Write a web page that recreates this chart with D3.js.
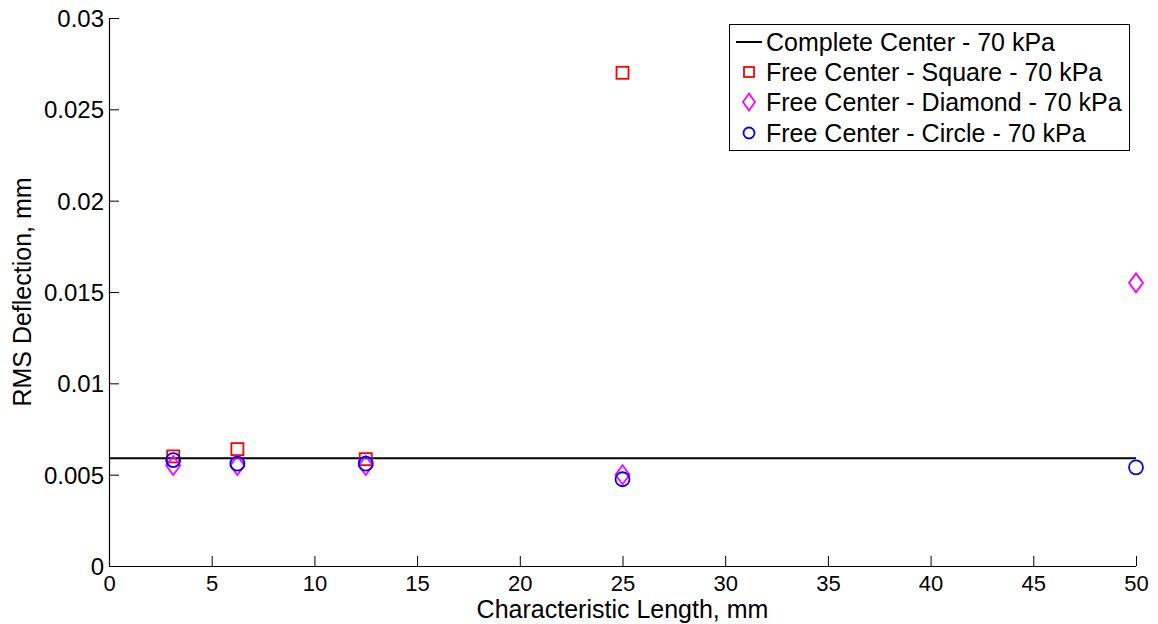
<!DOCTYPE html>
<html>
<head>
<meta charset="utf-8">
<script src="https://cdn.jsdelivr.net/npm/d3@7"></script>
<style>
  body { margin: 0; background: #fff; }
  text { font-family: "Liberation Sans", Arial, sans-serif; fill: #000; }
</style>
</head>
<body>
<svg id="chart" width="1158" height="624"></svg>
<script>
const xLengths = [3.125, 6.25, 12.5, 25, 50];
const completeCenter = 0.0059;
const squareX = [3.125, 6.25, 12.5, 25];
const squareVals = [0.0060, 0.0064, 0.00585, 0.0270];
const diamondVals = [0.0055, 0.0055, 0.0055, 0.0050, 0.0155];
const circleVals = [0.0058, 0.0056, 0.0056, 0.00475, 0.0054];
const xTicks = [0, 5, 10, 15, 20, 25, 30, 35, 40, 45, 50];
const yTicks = [0, 0.005, 0.01, 0.015, 0.02, 0.025, 0.03];
const yTickLabels = ["0", "0.005", "0.01", "0.015", "0.02", "0.025", "0.03"];
const legendLabels = ["Complete Center - 70 kPa", "Free Center - Square - 70 kPa", "Free Center - Diamond - 70 kPa", "Free Center - Circle - 70 kPa"];

(function () {
const svg = d3.select("#chart");
const pL = 109, pR = 1136, pT = 18, pB = 566;
const x = d3.scaleLinear().domain([0, 50]).range([pL, pR]);
const y = d3.scaleLinear().domain([0, 0.03]).range([pB, pT]);

// axes
const xAxis = d3.axisBottom(x).tickValues(xTicks).tickSize(-10).tickPadding(14).tickFormat(d3.format("d"));
const yAxis = d3.axisLeft(y).tickValues(yTicks).tickSize(-10).tickPadding(6).tickFormat((d, i) => yTickLabels[i]);

const gx = svg.append("g").attr("transform", `translate(0,${pB})`).call(xAxis);
const gy = svg.append("g").attr("transform", `translate(${pL},0)`).call(yAxis);
[gx, gy].forEach(g => {
  g.select(".domain").attr("stroke", "#000").attr("stroke-width", 1.2);
  g.selectAll(".tick line").attr("stroke", "#000").attr("stroke-width", 1);
  g.selectAll(".tick text").attr("font-family", "Liberation Sans, Arial, sans-serif").attr("fill", "#000");
});
gx.select(".domain").attr("d", `M${pL},0.5H${pR}`);
gy.select(".domain").attr("d", `M0.5,${pB}V${pT}`);
gx.selectAll(".tick text").attr("font-size", 22).attr("dy", null).attr("y", 25);
gy.selectAll(".tick text").attr("font-size", 24).attr("x", -5).attr("dy", "0.36em");

// axis labels
svg.append("text").attr("x", (pL + pR) / 2).attr("y", 618).attr("text-anchor", "middle")
  .attr("font-size", 25).text("Characteristic Length, mm");
svg.append("text").attr("transform", `translate(31,${(pT + pB) / 2}) rotate(-90)`)
  .attr("text-anchor", "middle").attr("font-size", 25).text("RMS Deflection, mm");

// complete center line
svg.append("line").attr("x1", x(0)).attr("x2", x(50))
  .attr("y1", y(completeCenter)).attr("y2", y(completeCenter))
  .attr("stroke", "#000").attr("stroke-width", 2);

const sqSize = 12;
svg.append("g").selectAll("rect").data(squareVals).join("rect")
  .attr("x", (d, i) => x(squareX[i]) - sqSize / 2).attr("y", d => y(d) - sqSize / 2)
  .attr("width", sqSize).attr("height", sqSize)
  .attr("fill", "none").attr("stroke", "#ff0000").attr("stroke-width", 1.8);

const diamond = (cx, cy, w, h) => `M${cx},${cy - h}L${cx + w},${cy}L${cx},${cy + h}L${cx - w},${cy}Z`;
svg.append("g").selectAll("path").data(diamondVals).join("path")
  .attr("d", (d, i) => diamond(x(xLengths[i]), y(d), 7, 9.5))
  .attr("fill", "none").attr("stroke", "#ff00ff").attr("stroke-width", 1.8);

svg.append("g").selectAll("circle").data(circleVals).join("circle")
  .attr("cx", (d, i) => x(xLengths[i])).attr("cy", d => y(d)).attr("r", 7)
  .attr("fill", "none").attr("stroke", "#0000ff").attr("stroke-width", 1.8);

// legend
const lg = svg.append("g");
lg.append("rect").attr("x", 729.5).attr("y", 24.5).attr("width", 400).attr("height", 126)
  .attr("fill", "#fff").attr("stroke", "#000").attr("stroke-width", 1);
const rowY = [42, 72, 102, 133];
const mx = 749;
lg.selectAll("text").data(legendLabels).join("text")
  .attr("x", 766).attr("y", (d, i) => rowY[i]).attr("dy", "0.36em")
  .attr("font-size", 25).text(d => d);
lg.append("line").attr("x1", 736).attr("x2", 762).attr("y1", rowY[0]).attr("y2", rowY[0])
  .attr("stroke", "#000").attr("stroke-width", 2);
lg.append("rect").attr("x", mx - 5).attr("y", rowY[1] - 5).attr("width", 10).attr("height", 10)
  .attr("fill", "none").attr("stroke", "#ff0000").attr("stroke-width", 1.8);
lg.append("path").attr("d", diamond(mx, rowY[2], 6, 8.5))
  .attr("fill", "none").attr("stroke", "#ff00ff").attr("stroke-width", 1.8);
lg.append("circle").attr("cx", mx).attr("cy", rowY[3]).attr("r", 5.5)
  .attr("fill", "none").attr("stroke", "#0000ff").attr("stroke-width", 1.8);
})();
</script>
</body>
</html>
